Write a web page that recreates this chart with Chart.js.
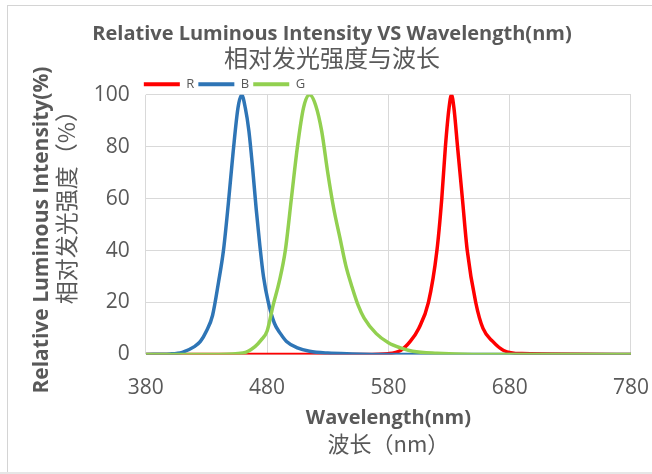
<!DOCTYPE html>
<html>
<head>
<meta charset="utf-8">
<script src="https://cdn.jsdelivr.net/npm/chart.js@4.4.0/dist/chart.umd.min.js"></script>
<style>
  html, body { margin: 0; padding: 0; background: #fff; }
  #wrap { position: relative; width: 652px; height: 474px; overflow: hidden; }
  #frame { position: absolute; left: 7px; top: 5px; width: 700px; height: 466px; border: 1px solid #d4d4d4; }
  #shade { position: absolute; left: 0; top: 472px; width: 652px; height: 2px; background: #e6e6e6; }
  canvas { position: absolute; left: 0; top: 0; }
</style>
</head>
<body>
<div id="wrap">
  <div id="frame"></div>
  <div id="shade"></div>
  <canvas id="myChart" width="652" height="474"></canvas>
</div>
<script>
// values (nm, %)
const wavelengthTicks = [380, 480, 580, 680, 780];
const intensityTicks = [0, 20, 40, 60, 80, 100];

const redWave = [380, 560, 580, 590, 598, 605, 613, 620, 624, 627, 630, 632, 634, 637, 641, 645, 652, 658, 666, 675, 690, 780];
const redValue = [0, 0, 0.3, 1.5, 5, 10, 20, 40, 60, 80, 95, 100, 95, 80, 60, 40, 20, 10, 5, 1.5, 0.3, 0];

const blueWave = [380, 400, 410, 420, 425, 430, 435, 440, 444, 448, 452, 456, 459, 462, 465, 468, 471, 474, 477, 481, 486, 491, 496, 505, 515, 530, 550, 580, 780];
const blueValue = [0, 0.2, 0.8, 3, 5, 9, 15, 28, 40, 58, 78, 95, 100, 95, 86, 72, 56, 42, 30, 20, 12, 8, 5, 2.5, 1.2, 0.5, 0.2, 0, 0];

const greenWave = [380, 440, 460, 470, 475, 480, 485, 490, 495, 500, 505, 510, 515, 520, 525, 530, 535, 540, 545, 550, 555, 560, 570, 580, 590, 600, 620, 650, 780];
const greenValue = [0, 0, 0.5, 3, 5.5, 9, 19, 28, 40, 60, 80, 95, 100, 96, 86, 70, 56, 45, 34, 26, 19, 14, 8, 4.5, 2.5, 1.2, 0.4, 0, 0];

const gray = '#595959';
const gridColor = '#d9d9d9';
const noTick = 'rgba(0,0,0,0)';

function toPoints(xs, ys) {
  return xs.map((x, i) => ({ x: x, y: ys[i] }));
}

function makeSeries(label, color, xs, ys, order) {
  return {
    label: label,
    data: toPoints(xs, ys),
    borderColor: color,
    backgroundColor: color,
    borderWidth: 3.5,
    pointRadius: 0,
    cubicInterpolationMode: 'monotone',
    order: order
  };
}

// legend in the picture starts at the plot's left edge, a bit lower than chart.js puts it
const legendShift = {
  id: 'legendShift',
  afterLayout(chart) {
    const lg = chart.legend;
    const pad = lg.options.labels.padding;
    lg.left = chart.chartArea.left - 2 - pad;
    lg.top += 6;
  }
};

const ctx = document.getElementById('myChart').getContext('2d');
const chart = new Chart(ctx, {
  type: 'line',
  data: {
    datasets: [
      makeSeries('R', '#ff0000', redWave, redValue, 3),
      makeSeries('B', '#2e75b6', blueWave, blueValue, 2),
      makeSeries('G', '#92d050', greenWave, greenValue, 1)
    ]
  },
  plugins: [legendShift],
  options: {
    responsive: false,
    animation: false,
    devicePixelRatio: 1,
    layout: { padding: { left: 32, right: 20, top: 22, bottom: 17 } },
    plugins: {
      title: {
        display: true,
        text: 'Relative Luminous Intensity VS Wavelength(nm)',
        color: gray,
        font: { family: 'Open Sans', size: 20, weight: 'bold' },
        padding: { top: 0, bottom: -3 }
      },
      subtitle: {
        display: true,
        text: '相对发光强度与波长',
        color: gray,
        font: { family: 'Noto Sans CJK SC', size: 24 },
        padding: { top: 0, bottom: -4 }
      },
      legend: {
        position: 'top',
        align: 'start',
        labels: {
          usePointStyle: true,
          pointStyle: 'line',
          pointStyleWidth: 36,
          boxHeight: 13,
          padding: 4,
          color: gray,
          font: { family: 'Open Sans', size: 13 },
          generateLabels: (c) => Chart.defaults.plugins.legend.labels.generateLabels(c)
            .map(item => Object.assign(item, { lineWidth: 4 })),
          sort: (a, b) => a.datasetIndex - b.datasetIndex
        }
      },
      tooltip: { enabled: false }
    },
    scales: {
      x: {
        type: 'linear',
        min: 380,
        max: 780,
        afterBuildTicks: (scale) => { scale.ticks = wavelengthTicks.map(v => ({ value: v })); },
        ticks: { color: gray, padding: 3, maxRotation: 0, font: { family: 'Open Sans', size: 21 } },
        grid: { color: gridColor, drawTicks: true, tickLength: 18, tickColor: noTick },
        border: { display: false },
        title: {
          display: true,
          text: 'Wavelength(nm)',
          color: gray,
          font: { family: 'Open Sans', size: 20, weight: 'bold' },
          padding: { top: 3, bottom: 0 }
        }
      },
      x2: {
        type: 'linear',
        axis: 'x',
        position: 'bottom',
        weight: 1,
        ticks: { display: false },
        grid: { display: false, drawTicks: false },
        border: { display: false },
        title: {
          display: true,
          text: '波长（nm）',
          color: gray,
          font: { family: 'Noto Sans CJK SC', size: 22 },
          padding: { top: 0, bottom: 0 }
        }
      },
      y: {
        min: 0,
        max: 100,
        afterBuildTicks: (scale) => { scale.ticks = intensityTicks.map(v => ({ value: v })); },
        ticks: { color: gray, padding: 3, font: { family: 'Open Sans', size: 21 } },
        grid: { color: gridColor, drawTicks: true, tickLength: 13, tickColor: noTick },
        border: { display: false },
        title: {
          display: true,
          text: '\u3000\u3000相对发光强度（%）',
          color: gray,
          font: { family: 'Noto Sans CJK SC', size: 23 },
          padding: { top: -2, bottom: 11 }
        }
      },
      y2: {
        type: 'linear',
        axis: 'y',
        position: 'left',
        weight: 1,
        ticks: { display: false },
        grid: { display: false, drawTicks: false },
        border: { display: false },
        title: {
          display: true,
          text: 'Relative Luminous Intensity(%)  ',
          color: gray,
          font: { family: 'Open Sans', size: 21, weight: 'bold' },
          padding: { top: -3, bottom: 0 }
        }
      }
    }
  }
});
</script>
</body>
</html>
